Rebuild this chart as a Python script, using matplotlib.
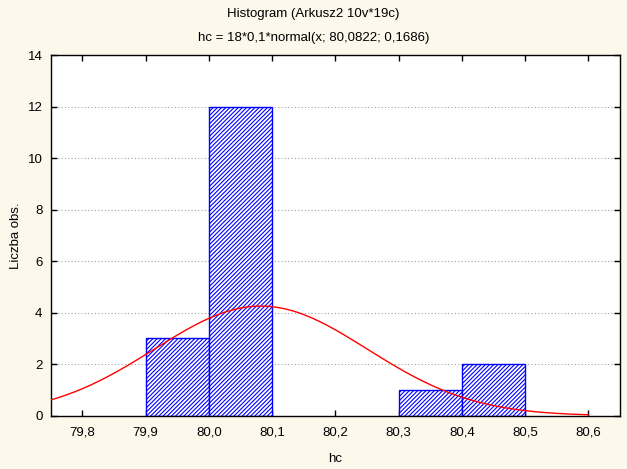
import numpy as np
import matplotlib
matplotlib.use("Agg")
import matplotlib.pyplot as plt
from matplotlib.ticker import FuncFormatter

# histogram data
bin_left = [79.9, 80.0, 80.3, 80.4]
bin_width = 0.1
counts = [3, 12, 1, 2]

# fitted normal curve parameters (from the title)
n_obs = 18
mu = 80.0822
sigma = 0.1686

x_ticks = [79.8, 79.9, 80.0, 80.1, 80.2, 80.3, 80.4, 80.5, 80.6]
y_ticks = [0, 2, 4, 6, 8, 10, 12, 14]

title1 = "Histogram (Arkusz2 10v*19c)"
title2 = "hc = 18*0,1*normal(x; 80,0822; 0,1686)"

plt.rcParams['font.family'] = ['Liberation Sans', 'DejaVu Sans']
plt.rcParams['hatch.linewidth'] = 0.8

bg = '#fdf8ec'
fig = plt.figure(figsize=(6.27, 4.69), dpi=100, facecolor=bg)
ax = fig.add_axes([0.0809, 0.1136, 0.9079, 0.7684])
ax.set_facecolor('white')

ax.bar(bin_left, counts, width=bin_width, align='edge', facecolor='white',
       edgecolor='#0000ff', hatch='////////', linewidth=1.0, zorder=2)

xs = np.linspace(79.75, 80.6, 400)
ys = n_obs * bin_width * np.exp(-0.5 * ((xs - mu) / sigma) ** 2) / (sigma * np.sqrt(2 * np.pi))
ax.plot(xs, ys, color='#ff0000', linewidth=1.0, zorder=3)

ax.set_xlim(79.75, 80.65)
ax.set_ylim(0, 14)
ax.set_xticks(x_ticks)
ax.set_yticks(y_ticks)
ax.xaxis.set_major_formatter(FuncFormatter(lambda v, p: f"{v:.1f}".replace('.', ',')))
ax.tick_params(direction='in', length=4, width=1, top=True, right=True,
               labelsize=9.5, colors='black', pad=8)
ax.tick_params(axis='y', pad=6)

for v in y_ticks[1:-1]:
    ax.axhline(v, color='#a0a0a0', linestyle=(0, (1, 2)), linewidth=0.8, zorder=1)

for s in ax.spines.values():
    s.set_linewidth(1.0)
    s.set_color('black')

ax.set_xlabel("hc", fontsize=9.5, labelpad=10)
ax.set_ylabel("Liczba obs.", fontsize=9.5, labelpad=4)

fig.text(0.5, 1 - 14 / 469, title1, ha='center', va='center', fontsize=9.5)
fig.text(0.5, 1 - 38 / 469, title2, ha='center', va='center', fontsize=9.5)

fig.savefig("out.png", dpi=100, facecolor=bg)
